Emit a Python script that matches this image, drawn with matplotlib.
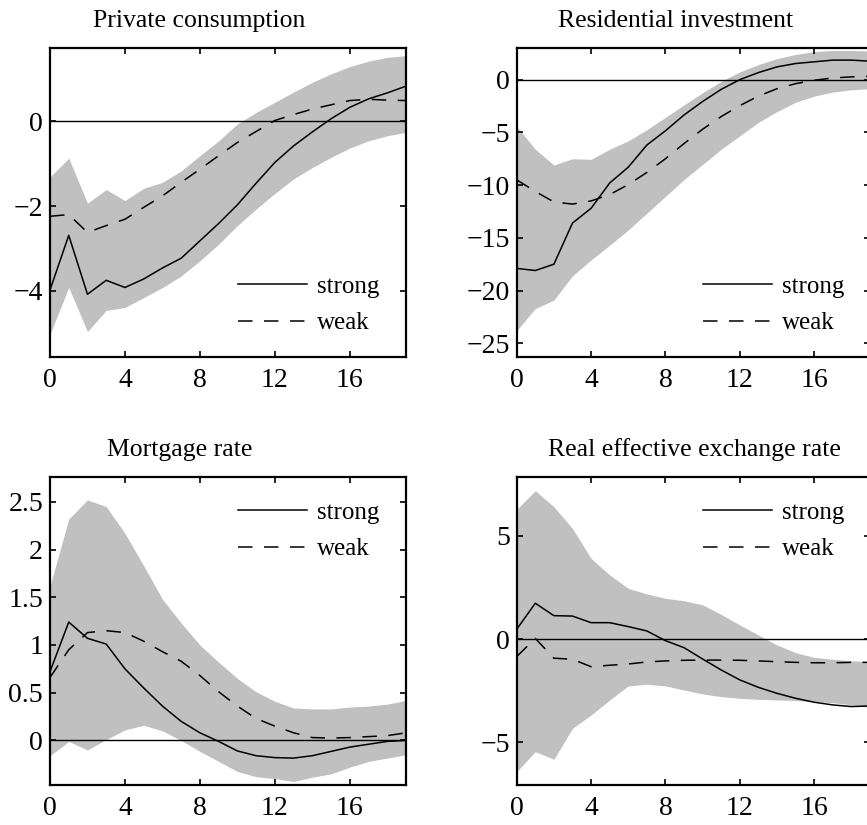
import numpy as np
import matplotlib
matplotlib.use("Agg")
import matplotlib.pyplot as plt

plt.rcParams['font.family'] = ['Liberation Serif', 'DejaVu Serif']
plt.rcParams['axes.unicode_minus'] = True

horizon = list(range(20))

titles = ["Private consumption", "Residential investment",
          "Mortgage rate", "Real effective exchange rate"]

# Private consumption
pc_strong = [-3.98, -2.69, -4.08, -3.75, -3.92, -3.72, -3.46, -3.23, -2.82, -2.41,
             -1.97, -1.46, -0.97, -0.58, -0.25, 0.06, 0.33, 0.53, 0.67, 0.83]
pc_weak = [-2.24, -2.20, -2.62, -2.46, -2.31, -2.03, -1.76, -1.44, -1.13, -0.81,
           -0.50, -0.24, 0.02, 0.16, 0.29, 0.39, 0.49, 0.52, 0.50, 0.49]
pc_upper = [-1.31, -0.87, -1.93, -1.61, -1.87, -1.58, -1.44, -1.17, -0.81, -0.46,
            -0.06, 0.21, 0.45, 0.69, 0.92, 1.12, 1.29, 1.42, 1.51, 1.55]
pc_lower = [-5.02, -3.92, -4.96, -4.46, -4.39, -4.16, -3.92, -3.65, -3.29, -2.90,
            -2.46, -2.07, -1.70, -1.36, -1.09, -0.85, -0.63, -0.46, -0.34, -0.26]

# Residential investment
ri_strong = [-17.9, -18.1, -17.5, -13.6, -12.2, -9.8, -8.3, -6.2, -4.85, -3.35,
             -2.07, -0.92, 0.0, 0.67, 1.21, 1.53, 1.69, 1.85, 1.85, 1.75]
ri_weak = [-9.5, -10.6, -11.6, -11.8, -11.5, -10.9, -9.95, -8.8, -7.5, -6.06,
           -4.7, -3.5, -2.46, -1.56, -0.86, -0.38, -0.06, 0.16, 0.26, 0.32]
ri_upper = [-4.43, -6.6, -8.1, -7.5, -7.56, -6.6, -5.8, -4.75, -3.57, -2.39,
            -1.24, -0.16, 0.73, 1.43, 2.0, 2.39, 2.65, 2.77, 2.77, 2.71]
ri_lower = [-23.8, -21.7, -20.9, -18.6, -17.1, -15.7, -14.25, -12.66, -11.07, -9.47,
            -8.04, -6.6, -5.33, -4.05, -3.03, -2.14, -1.56, -1.18, -0.96, -0.86]

# Mortgage rate
mr_strong = [0.72, 1.24, 1.07, 1.01, 0.75, 0.55, 0.36, 0.20, 0.08, -0.01,
             -0.11, -0.16, -0.18, -0.185, -0.16, -0.115, -0.07, -0.04, -0.01, 0.0]
mr_weak = [0.66, 0.95, 1.13, 1.15, 1.13, 1.04, 0.93, 0.83, 0.68, 0.51,
           0.36, 0.23, 0.15, 0.08, 0.03, 0.025, 0.03, 0.04, 0.05, 0.08]
mr_upper = [1.62, 2.32, 2.52, 2.45, 2.17, 1.83, 1.48, 1.23, 1.00, 0.82,
            0.65, 0.51, 0.41, 0.34, 0.33, 0.33, 0.35, 0.36, 0.38, 0.42]
mr_lower = [-0.16, -0.01, -0.10, 0.01, 0.11, 0.16, 0.10, 0.0, -0.115, -0.22,
            -0.325, -0.38, -0.40, -0.43, -0.385, -0.35, -0.28, -0.22, -0.185, -0.15]

# Real effective exchange rate
rer_strong = [0.47, 1.73, 1.13, 1.11, 0.79, 0.79, 0.60, 0.39, -0.08, -0.42,
              -0.97, -1.50, -1.98, -2.34, -2.63, -2.87, -3.06, -3.19, -3.27, -3.24]
rer_weak = [-0.85, 0.03, -0.93, -0.98, -1.34, -1.27, -1.21, -1.11, -1.06, -1.03,
            -1.02, -1.02, -1.03, -1.06, -1.10, -1.13, -1.15, -1.15, -1.13, -1.13]
rer_upper = [6.27, 7.18, 6.40, 5.35, 3.90, 3.10, 2.45, 2.18, 1.97, 1.85,
             1.65, 1.19, 0.68, 0.19, -0.29, -0.66, -0.89, -0.98, -1.05, -1.10]
rer_lower = [-6.42, -5.45, -5.82, -4.32, -3.68, -2.95, -2.27, -2.19, -2.27, -2.47,
             -2.66, -2.79, -2.87, -2.92, -2.95, -2.98, -3.03, -3.08, -3.19, -3.31]

xticks = [0, 4, 8, 12, 16]
yticks_list = [[-4, -2, 0], [-25, -20, -15, -10, -5, 0],
               [0, 0.5, 1, 1.5, 2, 2.5], [-5, 0, 5]]
ytick_labels = [["−4", "−2", "0"], ["−25", "−20", "−15", "−10", "−5", "0"],
                ["0", "0.5", "1", "1.5", "2", "2.5"], ["−5", "0", "5"]]
ylims = [(-5.56, 1.73), (-26.3, 3.0), (-0.47, 2.76), (-7.08, 7.84)]

panels = [
    (pc_strong, pc_weak, pc_upper, pc_lower),
    (ri_strong, ri_weak, ri_upper, ri_lower),
    (mr_strong, mr_weak, mr_upper, mr_lower),
    (rer_strong, rer_weak, rer_upper, rer_lower),
]

W, H = 867, 825
fig = plt.figure(figsize=(W / 100, H / 100), dpi=100)

# axes rectangles in pixels: left, top, right, bottom
rects = [(50, 48, 406, 357), (516.7, 48, 870, 357),
         (50, 477, 406, 785.3), (516.7, 477, 870, 785.3)]
title_x = [0.419, 0.449, 0.365, 0.502]
legend_y = [0.168, 0.168, 0.825, 0.825]

for i, (strong, weak, upper, lower) in enumerate(panels):
    l, t, r, b = rects[i]
    ax = fig.add_axes([l / W, 1 - b / H, (r - l) / W, (b - t) / H])
    ax.fill_between(horizon, lower, upper, color='#c0c0c0', linewidth=0)
    ax.axhline(0, color='black', linewidth=1.0)
    ax.plot(horizon, strong, color='black', linewidth=1.1, label='strong')
    ax.plot(horizon, weak, color='black', linewidth=1.1, dashes=(9.5, 7.5), label='weak')
    ax.set_xlim(0, 19)
    ax.set_ylim(*ylims[i])
    ax.set_xticks(xticks)
    ax.set_xticklabels([str(v) for v in xticks])
    ax.set_yticks(yticks_list[i])
    ax.set_yticklabels(ytick_labels[i])
    ax.tick_params(direction='in', length=4, width=1.2, top=True, right=True,
                   labelsize=20, pad=5)
    ax.tick_params(axis='x', pad=8)
    for sp in ax.spines.values():
        sp.set_linewidth(1.6)
    ax.text(title_x[i], 1 + 21 / (b - t), titles[i], transform=ax.transAxes,
            ha='center', va='baseline', fontsize=18.5)
    ax.legend(loc='center left', bbox_to_anchor=(0.528, legend_y[i]),
              frameon=False, fontsize=18, handlelength=2.75, handletextpad=0.4,
              borderpad=0, borderaxespad=0, labelspacing=0.55)

fig.savefig('out.png', dpi=100)
